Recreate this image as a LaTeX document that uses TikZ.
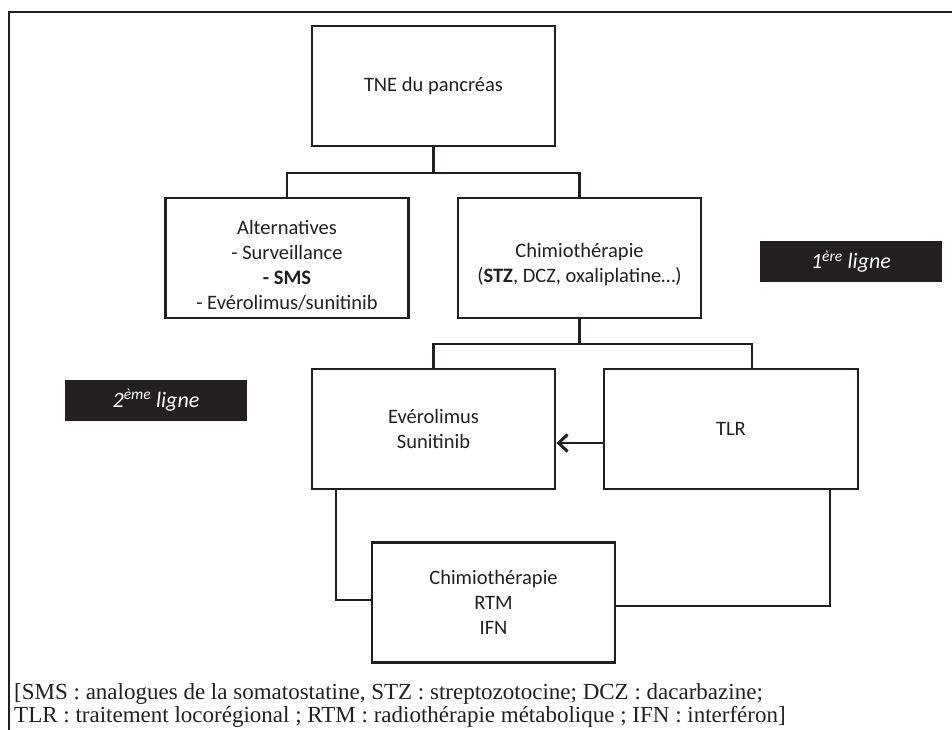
\documentclass[tikz,border=0pt]{standalone}
\usepackage{fontspec}
\setmainfont{Carlito}
\newfontfamily\timesf{Liberation Serif}
\usetikzlibrary{arrows.meta}
\definecolor{ink}{RGB}{35,31,32}
\newcommand{\pushdown}{\rule{0pt}{28pt}}
\begin{document}
\begin{tikzpicture}[x=1pt,y=-1pt,
  box/.style={draw=ink, line width=2.7pt, minimum width=243pt, minimum height=120pt, inner sep=0pt, align=center, font=\fontsize{20.5}{25}\selectfont, text=ink},
  conn/.style={draw=ink, line width=2.7pt},
  tag/.style={fill=ink, text=white, minimum width=182pt, minimum height=41pt, inner sep=0pt, font=\fontsize{22}{24}\selectfont\itshape},
  legend/.style={anchor=base west, inner sep=0pt, font=\timesf\fontsize{23}{23}\selectfont, text=ink}
]
\useasboundingbox (0,0) rectangle (952,730);
\draw[line width=2.2pt, ink] (9,731) -- (9,12) -- (953,12);

\node[box] (tne) at (433.5,86) {TNE du pancréas};
\node[box] (alt) at (287,258) {\pushdown Alternatives\\- Surveillance\\\textbf{- SMS}\\- Evérolimus/sunitinib};
\node[box] (chim) at (579.5,258) {\pushdown Chimiothérapie\\(\textbf{STZ}, DCZ, oxaliplatine…)};
\node[box] (ever) at (433.5,429) {Evérolimus\\Sunitinib};
\node[box, minimum width=254pt] (tlr) at (731,429) {TLR};
\node[box] (bot) at (493.5,602.5) {Chimiothérapie\\RTM\\IFN};

\node[tag] (l1) at (851,261.5) {1\textsuperscript{ère} ligne};
\node[tag] (l2) at (156,400) {2\textsuperscript{ème} ligne};

\coordinate (j1) at (433.5,173);
\draw[conn] (tne.south) -- (j1);
\draw[conn] (alt.north) |- (j1) -| (chim.north);

\coordinate (j2) at (579.5,344);
\coordinate (tx) at (752,344);
\draw[conn] (chim.south) -- (j2);
\draw[conn] (ever.north) |- (j2) -- (tx) -- (tlr.north -| tx);

\coordinate (ay) at (0,443);
\draw[conn, -{Straight Barb[length=9pt,width=17pt,line width=3pt]}] (tlr.west |- ay) -- (ever.east |- ay);

\coordinate (lx) at (336,600);
\draw[conn] (ever.south -| lx) |- (bot.west |- lx);
\coordinate (rx) at (830,606);
\draw[conn] (tlr.south -| rx) |- (bot.east |- rx);

\node[legend] (lg1) at (14,699.5) {[SMS : analogues de la somatostatine, STZ : streptozotocine; DCZ : dacarbazine;};
\node[legend] (lg2) at (14,722.5) {TLR : traitement locorégional ; RTM : radiothérapie métabolique ; IFN : interféron]};
\end{tikzpicture}
\end{document}
